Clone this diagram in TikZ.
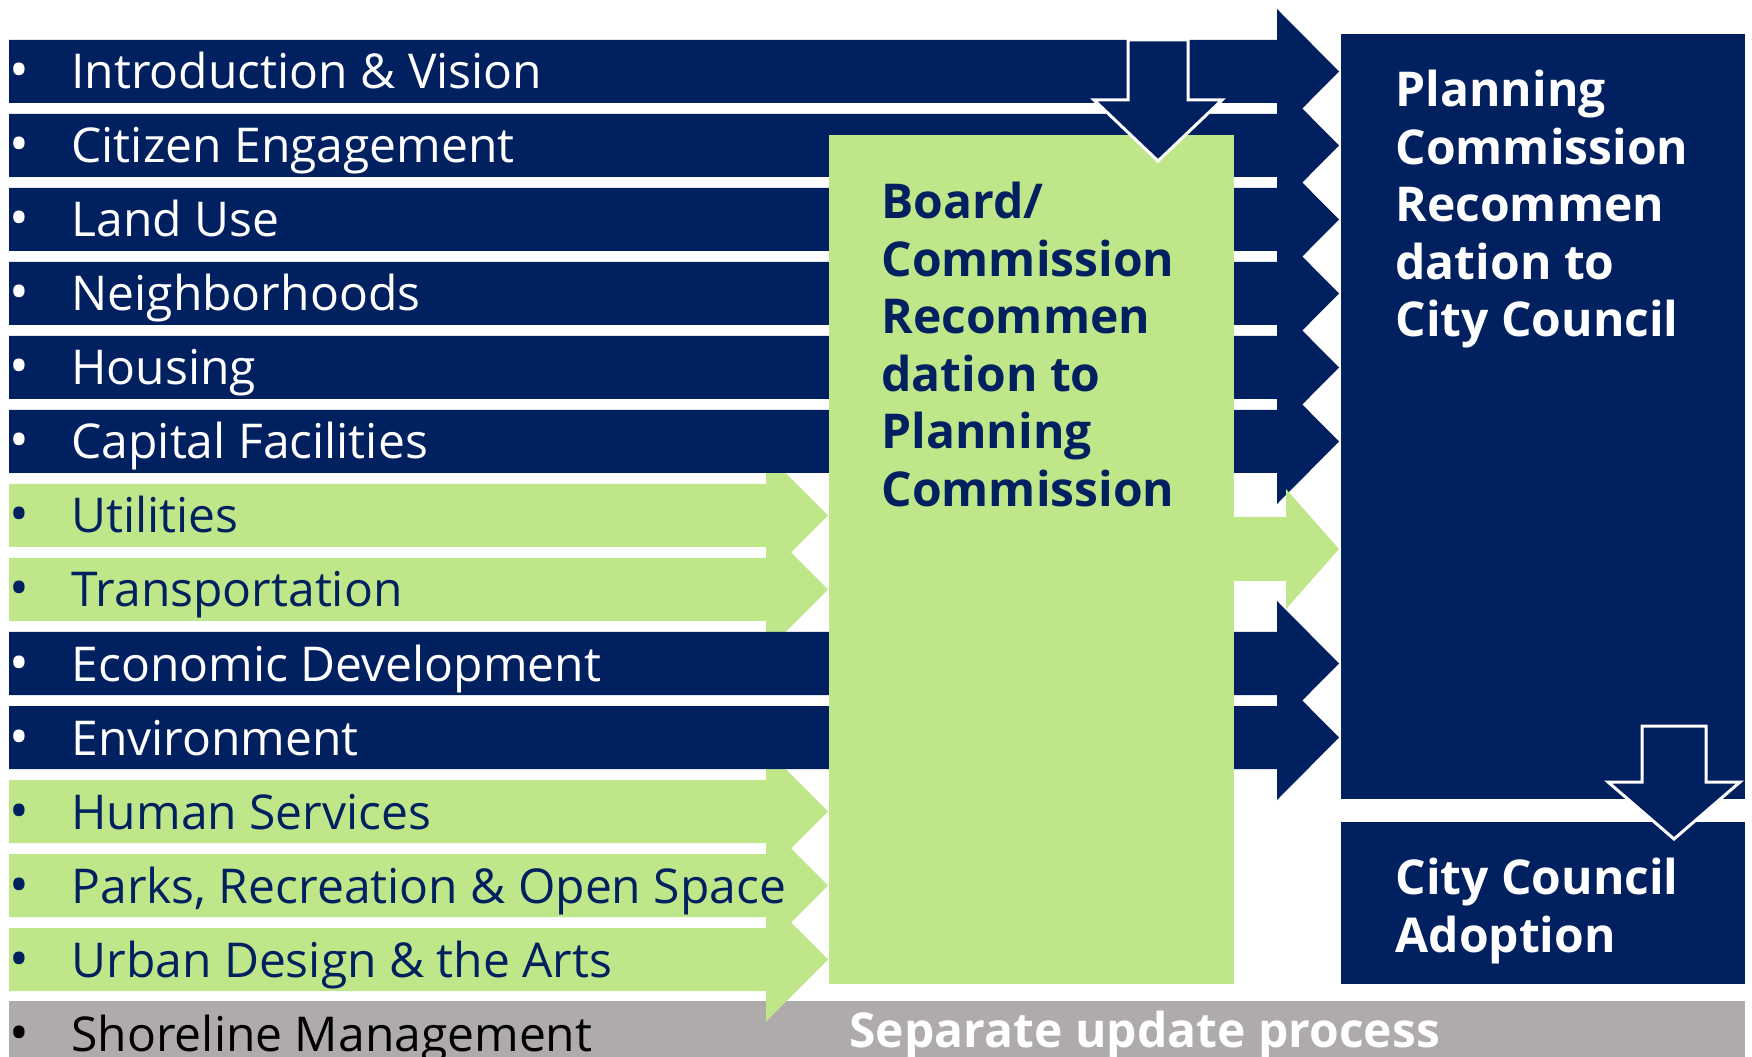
\documentclass[tikz,border=0pt]{standalone}
\usepackage{fontspec}
\setmainfont{Open Sans}
\definecolor{navy}{RGB}{0,32,96}
\definecolor{leaf}{RGB}{191,231,137}
\definecolor{stone}{RGB}{175,171,171}

\begin{document}
\begin{tikzpicture}[x=0.4pt,y=-0.4pt,
    dot/.style={anchor=base,inner sep=0pt,font=\fontsize{21}{23}\selectfont},
    topic/.style={anchor=base west,inner sep=0pt,font=\fontsize{19.2}{23}\selectfont},
    box/.style={anchor=north west,inner sep=0pt,outer sep=0pt,minimum width=162pt},
    boxtext/.style={anchor=north west,inner sep=0pt,align=left,font=\fontsize{19.2}{23}\selectfont\bfseries},
    downarrow/.style={fill=navy,draw=white,line width=1.2pt}]
    \useasboundingbox (0,0) rectangle (1752,1057);
    \clip (0,0) rectangle (1752,1057);

    % shoreline is handled apart
    \fill[stone] (9,1001) rectangle (1745,1070);

    % short green arrows into the board box
    \foreach \i in {6,7,10,11,12} {
        \pgfmathsetmacro\t{40+74*\i}
        \fill[leaf] (9,\t) -- (766,\t) -- (766,\t-30.5) -- (828,\t+31.5) -- (766,\t+93.5) -- (766,\t+63) -- (9,\t+63) -- cycle;
    }
    % long navy arrows straight to the commission
    \foreach \i in {0,...,5} {
        \pgfmathsetmacro\t{40+74*\i}
        \fill[navy] (9,\t) -- (1277,\t) -- (1277,\t-31) -- (1339,\t+31.5) -- (1277,\t+94) -- (1277,\t+63) -- (9,\t+63) -- cycle;
    }
    \fill[leaf] (1200,517) -- (1286,517) -- (1286,489) -- (1339,549) -- (1286,609) -- (1286,581) -- (1200,581) -- cycle;
    \foreach \i in {8,9} {
        \pgfmathsetmacro\t{40+74*\i}
        \fill[navy] (9,\t) -- (1277,\t) -- (1277,\t-31) -- (1339,\t+31.5) -- (1277,\t+94) -- (1277,\t+63) -- (9,\t+63) -- cycle;
    }

    \node[box,fill=leaf,minimum height=339.6pt] (board) at (829,135) {};
    \node[box,fill=navy,minimum width=161.6pt,minimum height=306pt] (pc) at (1341,34) {};
    \node[box,fill=navy,minimum width=161.6pt,minimum height=64.8pt] (council) at (1341,822) {};

    \draw[downarrow] (1128,40) -- (1188,40) -- (1188,100) -- (1222,100) -- (1158,161) -- (1094,100) -- (1128,100) -- cycle;
    \draw[downarrow] (1642,726) -- (1706,726) -- (1706,782) -- (1740,782) -- (1674,839) -- (1608,782) -- (1642,782) -- cycle;

    % topic labels
    \foreach \i/\lbl in {0/Introduction \& Vision, 1/Citizen Engagement, 2/Land Use, 3/Neighborhoods, 4/Housing, 5/Capital Facilities, 8/Economic Development, 9/Environment} {
        \node[dot,white] (dot\i) at (19.5,89+74*\i) {•};
        \node[topic,white] (topic\i) at (71,89+74*\i) {\lbl};
    }
    \foreach \i/\lbl in {6/Utilities, 7/Transportation, 10/Human Services, 11/{Parks, Recreation \& Open Space}, 12/Urban Design \& the Arts} {
        \node[dot,navy] (dot\i) at (19.5,89+74*\i) {•};
        \node[topic,navy] (topic\i) at (71,89+74*\i) {\lbl};
    }
    \node[dot,black] (dot13) at (19.5,1051) {•};
    \node[topic,black] (topic13) at (71,1051) {Shoreline Management};

    \node[boxtext,navy] (boardtext) at ([shift={(52,43)}]board.north west) {\strut Board/\\Commission\\Recommen\\dation to\\Planning\\Commission};
    \node[boxtext,white] (pctext) at ([shift={(54,32)}]pc.north west) {\strut Planning\\Commission\\Recommen\\dation to\\City Council};
    \node[boxtext,white] (counciltext) at ([shift={(54,32)}]council.north west) {\strut City Council\\Adoption};
    \node[topic,white,font=\fontsize{19.2}{23}\selectfont\bfseries] (separate) at (849,1047) {Separate update process};
\end{tikzpicture}
\end{document}
